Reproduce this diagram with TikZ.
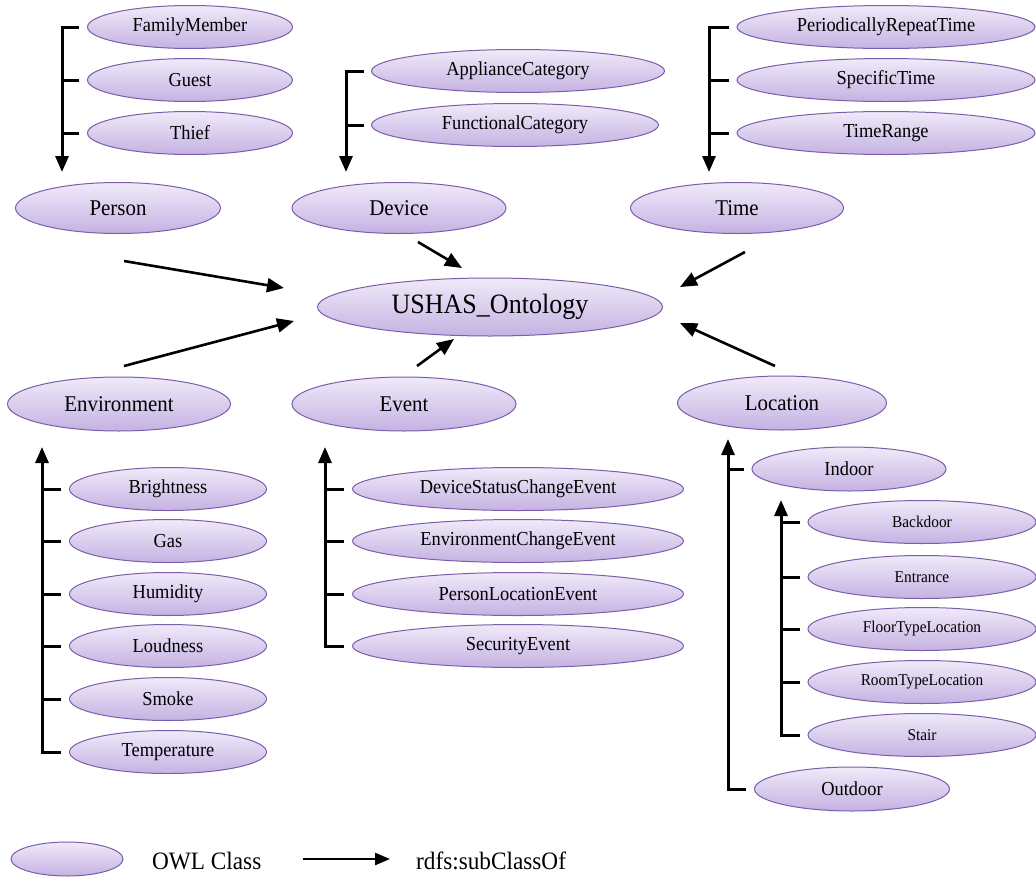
\documentclass[tikz,border=0pt]{standalone}
\usepackage{fontspec}
\setmainfont{Liberation Serif}
\newfontfamily\owlfont[FakeStretch=0.93]{Liberation Serif}
\usetikzlibrary{arrows.meta,shapes.geometric,calc}
\definecolor{owltop}{RGB}{240,234,249}
\definecolor{owlbottom}{RGB}{196,178,226}
\definecolor{owlline}{RGB}{124,94,168}
\begin{document}
\begin{tikzpicture}[x=1pt,y=-1pt,
  owl/.style={ellipse, draw=owlline, line width=1pt, top color=owltop,
    bottom color=owlbottom, inner sep=0pt, text=black},
  hub/.style={owl, minimum width=345pt, minimum height=58pt,
    font=\owlfont\fontsize{28}{28}\selectfont},
  cls/.style={owl, minimum width=#1, minimum height=51pt,
    font=\owlfont\fontsize{22.5}{22.5}\selectfont},
  sub/.style={owl, minimum width=#1, minimum height=43pt,
    font=\owlfont\fontsize{19.8}{19.8}\selectfont},
  subsmall/.style={owl, minimum width=#1, minimum height=43pt,
    font=\owlfont\fontsize{16.5}{16.5}\selectfont},
  isa/.style={line width=2.6pt, -{Triangle[length=17pt,width=14pt]}},
  treeline/.style={line width=3pt},
  treearrow/.style={line width=3pt, -{Triangle[length=16pt,width=13pt]}},
  legendtext/.style={anchor=west, inner sep=0pt,
    font=\owlfont\fontsize{25}{25}\selectfont}
]
\useasboundingbox (0,0) rectangle (1036,881);

% central class and its direct subclasses
\node[hub] (onto) at (490,307) {USHAS\_Ontology};
\node[cls=205pt] (person) at (118,208) {Person};
\node[cls=214pt] (device) at (399,208) {Device};
\node[cls=213pt] (time) at (737,208) {Time};
\node[cls=223pt, minimum height=54pt] (env) at (119,404) {Environment};
\node[cls=224pt, minimum height=54pt] (event) at (404,404) {Event};
\node[cls=209pt, minimum height=54pt] (loc) at (782,403) {Location};

% subclasses of Person
\node[sub=205pt] (fam) at (190,27) {FamilyMember};
\node[sub=205pt] (guest) at (190,80) {Guest};
\node[sub=205pt] (thief) at (190,133) {Thief};

% subclasses of Device
\node[sub=293pt] (appl) at (518,71) {ApplianceCategory};
\node[sub=287pt] (func) at (515,125) {FunctionalCategory};

% subclasses of Time
\node[sub=298pt] (prt) at (886,27) {PeriodicallyRepeatTime};
\node[sub=298pt] (spec) at (886,80) {SpecificTime};
\node[sub=298pt] (range) at (886,133) {TimeRange};

% subclasses of Environment
\node[sub=197pt] (bright) at (168,489) {Brightness};
\node[sub=197pt] (gas) at (168,541) {Gas};
\node[sub=197pt] (humid) at (168,594) {Humidity};
\node[sub=197pt] (loud) at (168,646) {Loudness};
\node[sub=197pt] (smoke) at (168,699) {Smoke};
\node[sub=197pt] (temp) at (168,752) {Temperature};

% subclasses of Event
\node[sub=331pt] (dsce) at (518,489) {DeviceStatusChangeEvent};
\node[sub=331pt] (ece) at (518,541) {EnvironmentChangeEvent};
\node[sub=331pt] (ple) at (518,594) {PersonLocationEvent};
\node[sub=331pt] (sec) at (518,646) {SecurityEvent};

% subclasses of Location
\node[sub=194pt, minimum height=44pt] (indoor) at (849,469) {Indoor};
\node[sub=195pt, minimum height=44pt] (outdoor) at (852,789) {Outdoor};
\node[subsmall=228pt] (back) at (922,522) {Backdoor};
\node[subsmall=228pt] (entr) at (922,577) {Entrance};
\node[subsmall=228pt] (floor) at (922,629) {FloorTypeLocation};
\node[subsmall=228pt] (room) at (922,682) {RoomTypeLocation};
\node[subsmall=228pt] (stair) at (922,735) {Stair};

% subclass trees
\coordinate (ptip) at (62,172);
\draw[treearrow] ([xshift=-8pt]fam.west) -| (ptip);
\draw[treeline] ([xshift=-8pt]guest.west) -- (guest.west -| ptip);
\draw[treeline] ([xshift=-8pt]thief.west) -- (thief.west -| ptip);

\coordinate (dtip) at (346,172);
\draw[treearrow] ([xshift=-7pt]appl.west) -| (dtip);
\draw[treeline] ([xshift=-7pt]func.west) -- (func.west -| dtip);

\coordinate (ttip) at (709,172);
\draw[treearrow] ([xshift=-8pt]prt.west) -| (ttip);
\draw[treeline] ([xshift=-8pt]spec.west) -- (spec.west -| ttip);
\draw[treeline] ([xshift=-8pt]range.west) -- (range.west -| ttip);

\coordinate (etip) at (42,447);
\draw[treearrow] ([xshift=-8pt]temp.west) -| (etip);
\foreach \n in {bright,gas,humid,loud,smoke}
  \draw[treeline] ([xshift=-8pt]\n.west) -- (\n.west -| etip);

\coordinate (vtip) at (325,447);
\draw[treearrow] ([xshift=-8pt]sec.west) -| (vtip);
\foreach \n in {dsce,ece,ple}
  \draw[treeline] ([xshift=-8pt]\n.west) -- (\n.west -| vtip);

\coordinate (ltip) at (728,439);
\draw[treearrow] ([xshift=-8pt]outdoor.west) -| (ltip);
\draw[treeline] ([xshift=-8pt]indoor.west) -- (indoor.west -| ltip);

\coordinate (itip) at (781,500);
\draw[treearrow] ([xshift=-8pt]stair.west) -| (itip);
\foreach \n in {back,entr,floor,room}
  \draw[treeline] ([xshift=-8pt]\n.west) -- (\n.west -| itip);

% arrows into the central class
\coordinate (pfrom) at (124,261);  \coordinate (pto) at (284,288);
\coordinate (dfrom) at (418,242);  \coordinate (dto) at (462,268);
\coordinate (tfrom) at (745,252);  \coordinate (tto) at (680,287);
\coordinate (efrom) at (124,366);  \coordinate (eto) at (294,321);
\coordinate (vfrom) at (417,366);  \coordinate (vto) at (454,339);
\coordinate (lfrom) at (775,366);  \coordinate (lto) at (680,323);
\draw[isa] (pfrom) -- (pto);
\draw[isa] (dfrom) -- (dto);
\draw[isa] (tfrom) -- (tto);
\draw[isa] (efrom) -- (eto);
\draw[isa] (vfrom) -- (vto);
\draw[isa] (lfrom) -- (lto);

% legend
\node[owl, minimum width=112pt, minimum height=34pt] (key) at (67,859) {};
\node[legendtext] (keytext) at (152,861) {OWL Class};
\coordinate (afrom) at (303,859);
\coordinate (ato) at (390,859);
\draw[line width=2.6pt, -{Triangle[length=15pt,width=12pt]}] (afrom) -- (ato);
\node[legendtext] (arrowtext) at (416,861) {rdfs:subClassOf};
\end{tikzpicture}
\end{document}
